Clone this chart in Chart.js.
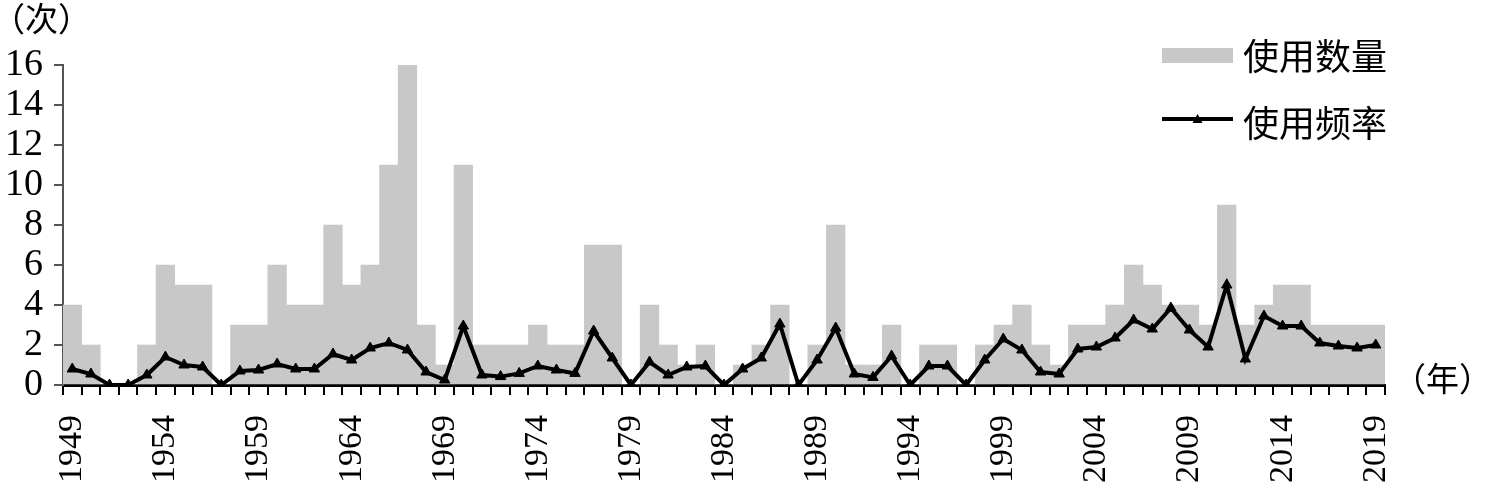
<!DOCTYPE html>
<html>
<head>
<meta charset="utf-8">
<script src="https://cdn.jsdelivr.net/npm/chart.js@4/dist/chart.umd.min.js"></script>
<style>
html,body{margin:0;padding:0;background:#fff;}
#wrap{width:1485px;height:484px;position:relative;}
</style>
</head>
<body>
<div id="wrap"><canvas id="c" width="1485" height="484"></canvas></div>
<script>
const years = [];
for (let y = 1949; y <= 2019; y++) years.push(String(y));
const shownTickLabels = ['1949','1954','1959','1964','1969','1974','1979','1984','1989','1994','1999','2004','2009','2014','2019'];
const usageCount = [4,2,0,0,2,6,5,5,0,3, 3,6,4,4,8,5,6,11,16,3, 1,11,2,2,2,3,2,2,7,7, 0,4,2,1,2,0,1,2,4,0, 2,8,1,1,3,0,2,2,0,2, 3,4,2,1,3,3,4,6,5,4, 4,3,9,3,4,5,5,3,3,3, 3];
const usageFreq = [0.8,0.55,0,0,0.5,1.4,1.0,0.9,0,0.7, 0.75,1.05,0.8,0.8,1.55,1.25,1.85,2.1,1.75,0.65, 0.25,2.95,0.5,0.42,0.58,0.95,0.75,0.58,2.7,1.35, 0,1.15,0.5,0.9,0.95,0,0.8,1.35,3.05,0, 1.25,2.85,0.55,0.38,1.45,0,0.95,0.95,0,1.25, 2.3,1.75,0.65,0.55,1.8,1.9,2.35,3.25,2.8,3.85, 2.75,1.9,5.0,1.3,3.45,2.95,2.95,2.1,1.95,1.85, 2.0];
const yTicks = [0,2,4,6,8,10,12,14,16];
const seriesNames = ['使用数量','使用频率'];
const yUnit = '（次）';
const xUnit = '（年）';

const BAR_COLOR = '#c8c8c8';
const SERIF = '"Liberation Serif", "Times New Roman", serif';
const CJK = '"Noto Sans CJK SC", sans-serif';

const decor = {
  id: 'decor',
  afterDraw(chart) {
    const ctx = chart.ctx;
    const area = chart.chartArea;
    ctx.save();
    ctx.fillStyle = '#000';
    ctx.font = '33px ' + CJK;
    ctx.textBaseline = 'middle';
    ctx.textAlign = 'left';
    ctx.fillText(yUnit, -8, 18);
    ctx.fillText(xUnit, area.right + 8, chart.scales.y.getPixelForValue(0) - 7);
    // legend
    const lx = 1162, lw = 71;
    ctx.fillStyle = chart.data.datasets[1].backgroundColor;
    ctx.fillRect(lx, 48, lw, 15);
    ctx.strokeStyle = '#000';
    ctx.lineWidth = 4;
    ctx.beginPath();
    ctx.moveTo(lx, 119);
    ctx.lineTo(lx + lw, 119);
    ctx.stroke();
    ctx.fillStyle = '#000';
    ctx.beginPath();
    const cx = lx + lw / 2;
    ctx.moveTo(cx, 114); ctx.lineTo(cx + 5, 123); ctx.lineTo(cx - 5, 123); ctx.closePath();
    ctx.fill();
    ctx.font = '36px ' + CJK;
    ctx.fillText(chart.data.datasets[1].label, 1243, 56);
    ctx.fillText(chart.data.datasets[0].label, 1243, 123);
    ctx.restore();
  }
};

new Chart(document.getElementById('c'), {
  type: 'bar',
  data: {
    labels: years,
    datasets: [
      {
        type: 'line',
        label: seriesNames[1],
        data: usageFreq,
        borderColor: '#000',
        backgroundColor: '#000',
        borderWidth: 4,
        pointStyle: 'triangle',
        pointRadius: 6,
        pointBorderWidth: 1,
        pointBackgroundColor: '#000',
        pointBorderColor: '#000',
        tension: 0,
        order: 0
      },
      {
        type: 'bar',
        label: seriesNames[0],
        data: usageCount,
        backgroundColor: BAR_COLOR,
        borderWidth: 0,
        categoryPercentage: 1.0,
        barPercentage: 1.0,
        order: 1
      }
    ]
  },
  options: {
    responsive: false,
    animation: false,
    devicePixelRatio: 1,
    layout: { padding: { top: 65, right: 100, left: 0, bottom: 0 } },
    plugins: { legend: { display: false }, tooltip: { enabled: false } },
    scales: {
      x: {
        offset: true,
        grid: { offset: true, drawOnChartArea: false, drawTicks: true, tickLength: 10, color: '#000', lineWidth: 2 },
        border: { display: true, color: '#000', width: 3 },
        ticks: {
          autoSkip: false, minRotation: 90, maxRotation: 90, padding: 20,
          color: '#000', font: { family: SERIF, size: 34 },
          callback: function(v, i) { const l = years[i]; return shownTickLabels.includes(l) ? l : ''; }
        },
        afterFit(s) { s.height = 99; }
      },
      y: {
        min: 0, max: 16,
        afterBuildTicks(s) { s.ticks = yTicks.map(v => ({ value: v })); },
        grid: { drawOnChartArea: false, drawTicks: true, tickLength: 9, color: '#555', lineWidth: 2 },
        border: { display: true, color: '#555', width: 2 },
        ticks: { autoSkip: false, padding: 11, color: '#000', font: { family: SERIF, size: 38 } },
        afterFit(s) { s.width = 63; }
      }
    }
  },
  plugins: [decor]
});
</script>
</body>
</html>
